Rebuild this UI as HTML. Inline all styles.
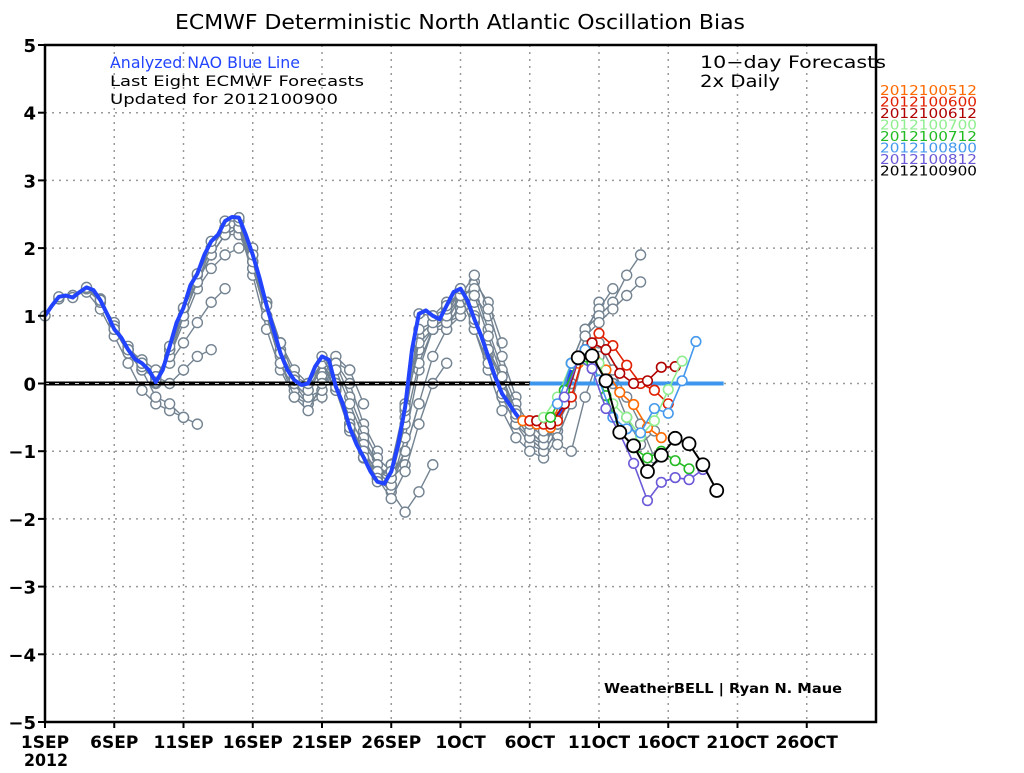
<!DOCTYPE html>
<html><head><meta charset="utf-8"><style>
body{margin:0;background:#fff;}
svg text{font-family:"DejaVu Sans","Liberation Sans",sans-serif;}
</style></head><body>
<svg id="chart" width="1024" height="768" xmlns="http://www.w3.org/2000/svg">
<rect x="0" y="0" width="1024" height="768" fill="#fff"/>
<text x="175" y="29" font-size="20" textLength="570" lengthAdjust="spacingAndGlyphs" fill="#000">ECMWF Deterministic North Atlantic Oscillation Bias</text>
<g id="grid"></g>
<g id="marks"></g>
<rect x="45" y="45" width="831" height="677" fill="none" stroke="#000" stroke-width="2.5"/>
<g id="axes"></g>
<text x="24" y="766" font-size="17" font-weight="bold" textLength="44" lengthAdjust="spacingAndGlyphs">2012</text>
<text x="110" y="68" font-size="16" textLength="190" lengthAdjust="spacingAndGlyphs" fill="#2244ff">Analyzed NAO Blue Line</text>
<text x="110" y="86" font-size="14" textLength="254" lengthAdjust="spacingAndGlyphs" fill="#000">Last Eight ECMWF Forecasts</text>
<text x="110" y="104" font-size="14" textLength="228" lengthAdjust="spacingAndGlyphs" fill="#000">Updated for 2012100900</text>
<text x="700" y="68" font-size="17" textLength="186" lengthAdjust="spacingAndGlyphs" fill="#000">10−day Forecasts</text>
<text x="700" y="87" font-size="17" textLength="80" lengthAdjust="spacingAndGlyphs" fill="#000">2x Daily</text>
<text x="604" y="693" font-size="13" font-weight="bold" textLength="238" lengthAdjust="spacingAndGlyphs" fill="#000">WeatherBELL | Ryan N. Maue</text>
<g id="legend"></g>
</svg>
<script>
const xTickLabels=["1SEP","6SEP","11SEP","16SEP","21SEP","26SEP","1OCT","6OCT","11OCT","16OCT","21OCT","26OCT"];
const yTickValues=[-5,-4,-3,-2,-1,0,1,2,3,4,5];
const analyzed=[1.0,1.15,1.28,1.3,1.27,1.35,1.42,1.38,1.23,1.02,0.8,0.68,0.5,0.36,0.3,0.2,0.02,0.2,0.55,0.9,1.12,1.45,1.62,1.9,2.1,2.2,2.4,2.46,2.45,2.2,1.9,1.55,1.15,0.8,0.45,0.2,0.05,-0.02,0.0,0.25,0.4,0.35,-0.05,-0.3,-0.65,-0.9,-1.09,-1.3,-1.45,-1.48,-1.3,-0.9,-0.35,0.5,1.03,1.08,1.0,0.95,1.15,1.35,1.4,1.23,0.95,0.7,0.4,0.1,-0.15,-0.3,-0.45,-0.58,-0.55,-0.52,-0.55,-0.55,-0.5,-0.3,0.2];
const grayStarts=[0,1,2,3,4,5,6,7,8,9,10,11,12,13,14,15,16,17,18,19,20,21,22,23,24,25,26,27,28,29,30,31,33,34,35,36];
const grayValues=[
[1.0,1.25,1.3,1.35,1.1,0.7,0.3,-0.1,-0.3,-0.4,-0.5],
[1.28,1.3,1.4,1.2,0.9,0.5,0.2,-0.2,-0.3,-0.5,-0.6],
[1.27,1.4,1.25,0.85,0.55,0.3,0.1,0.0,0.2,0.4,0.5],
[1.42,1.2,0.8,0.5,0.35,0.2,0.3,0.6,0.9,1.2,1.4],
[1.23,0.8,0.45,0.2,0.1,0.4,0.9,1.4,1.7,1.9,2.0],
[0.8,0.5,0.25,0.05,0.5,1.0,1.5,1.9,2.2,2.2,1.8],
[0.5,0.3,0.0,0.5,1.1,1.6,2.0,2.3,2.3,2.0,1.2],
[0.3,0.1,0.4,1.0,1.5,1.9,2.2,2.3,1.9,1.2,0.6],
[0.02,0.5,1.0,1.5,2.0,2.3,2.3,1.7,1.0,0.4,0.0],
[0.55,1.0,1.5,1.9,2.2,2.3,1.6,0.8,0.2,-0.2,-0.3],
[1.12,1.5,1.9,2.2,2.3,1.8,1.0,0.3,-0.1,-0.3,-0.2],
[1.62,2.0,2.3,2.3,1.7,1.0,0.4,0.0,-0.2,-0.1,0.2],
[2.1,2.3,2.3,1.8,1.2,0.5,0.0,-0.3,-0.1,0.3,0.2],
[2.4,2.4,1.7,1.2,0.6,0.1,-0.1,0.1,0.4,0.2,-0.3],
[2.45,1.8,1.0,0.3,-0.2,-0.4,0.0,0.3,0.0,-0.6,-1.0],
[1.9,1.2,0.5,0.0,-0.2,0.3,0.3,-0.2,-0.7,-1.1,-1.3],
[1.15,0.6,0.2,0.0,0.3,0.2,-0.3,-0.8,-1.2,-1.4,-1.2],
[0.45,0.1,0.0,0.3,0.0,-0.6,-1.0,-1.3,-1.5,-1.0,-0.3],
[0.05,-0.1,0.3,-0.1,-0.7,-1.1,-1.4,-1.6,-1.9,-1.6,-1.2],
[0.0,0.3,-0.1,-0.6,-1.0,-1.4,-1.7,-1.3,-0.6,0.0,0.3],
[0.4,0.0,-0.5,-0.9,-1.2,-1.4,-1.0,-0.3,0.4,0.8,1.0],
[-0.05,-0.6,-1.0,-1.4,-1.5,-0.8,0.2,0.8,0.9,1.0,1.2],
[-0.65,-1.0,-1.3,-1.4,-0.6,0.3,0.8,0.9,1.1,1.3,1.0],
[-1.09,-1.4,-1.2,-0.3,0.5,0.8,0.8,1.2,1.5,1.2,0.6],
[-1.45,-1.2,-0.5,0.7,0.9,0.9,1.3,1.6,1.1,0.4,-0.2],
[-1.3,-0.4,0.6,0.8,1.0,1.3,1.4,0.8,0.2,-0.3,-0.6],
[-0.35,0.8,0.9,1.0,1.4,1.3,0.7,0.1,-0.5,-0.8,-0.9],
[1.03,1.0,1.1,1.4,1.0,0.4,-0.2,-0.6,-0.9,-1.0,-0.7],
[1.0,1.2,1.3,0.8,0.2,-0.4,-0.8,-1.0,-1.1,-0.8,-0.3],
[1.15,1.3,0.8,0.3,-0.2,-0.6,-0.8,-0.9,-0.6,-0.2,0.5],
[1.4,0.9,0.5,0.0,-0.5,-0.8,-1.0,-0.7,0.0,0.7,1.2],
[0.95,0.5,0.1,-0.4,-0.7,-0.9,-0.6,0.3,0.8,1.1,1.4],
[-0.15,-0.4,-0.7,-0.9,-0.5,0.3,0.8,1.0,1.2,1.6,1.9],
[-0.45,-0.6,-0.8,-0.6,0.0,0.7,0.9,1.1,1.3,1.5],
[-0.55,-0.7,-0.8,-0.3,0.5,0.6,0.2,-0.2,-0.6,-1.1],
[-0.55,-0.9,-1.0,-0.2,0.4,0.0,-0.5,-0.9,-0.7]
];
const fcNames=["2012100512","2012100600","2012100612","2012100700","2012100712","2012100800","2012100812","2012100900"];
const fcColors=["#ff6a00","#e02000","#b00000","#90ee90","#22bb22","#4499ee","#6a5ad8","#000000"];
const fcStarts=[69,70,71,72,73,74,75,77];
const fcValues=[
[-0.55,-0.6,-0.65,-0.1,0.3,0.6,0.2,-0.13,-0.31,-0.65,-0.8],
[-0.55,-0.6,-0.55,-0.2,0.5,0.74,0.56,0.27,0.0,-0.1,-0.3],
[-0.55,-0.6,-0.3,0.35,0.6,0.5,0.15,0.0,0.04,0.24,0.25],
[-0.5,-0.2,0.3,0.35,0.3,-0.3,-0.5,-0.78,-0.55,-0.09,0.33],
[-0.5,-0.1,0.35,0.3,-0.18,-0.7,-0.95,-1.1,-1.0,-1.14,-1.26],
[-0.3,0.3,0.5,0.05,-0.5,-0.67,-0.73,-0.37,-0.44,0.04,0.62],
[-0.2,0.35,0.22,-0.37,-0.74,-1.18,-1.73,-1.46,-1.39,-1.42,-1.27],
[0.38,0.41,0.04,-0.72,-0.92,-1.3,-1.06,-0.81,-0.89,-1.2,-1.58]
];
const NS="http://www.w3.org/2000/svg";
const X0=45,X1=876,Y0=722,Y1=45,DAYS=60;
function xDay(d){return X0+(X1-X0)*d/DAYS;}
function xHalf(i){return xDay(i/2);}
function yVal(v){return Y0-(v+5)*(Y0-Y1)/10;}
function mk(tag,attrs,parent){const e=document.createElementNS(NS,tag);for(const k in attrs)e.setAttribute(k,attrs[k]);parent.appendChild(e);return e;}
const grid=document.getElementById('grid'),marks=document.getElementById('marks'),axes=document.getElementById('axes'),legend=document.getElementById('legend');
yTickValues.forEach(v=>{
  if(v>-5&&v<5){const l=mk('line',{x1:X0,x2:X1,y1:yVal(v),y2:yVal(v),stroke:'#999','stroke-width':1.5,'stroke-dasharray':'2,5'},grid);
  
  }
  const t=mk('line',{x1:X0-7,x2:X0,y1:yVal(v),y2:yVal(v),stroke:'#000','stroke-width':2},axes);
  
  
  const tx=mk('text',{x:X0-9,y:yVal(v)+7,'text-anchor':'end','font-size':18,'font-weight':'bold'},axes);
  tx.textContent=(v<0?'−':'')+Math.abs(v);
  
  
});
xTickLabels.forEach((lab,k)=>{
  const x=xDay(k*5);
  if(k>0){const l=mk('line',{x1:x,x2:x,y1:Y1,y2:Y0,stroke:'#999','stroke-width':1.5,'stroke-dasharray':'2,5'},grid);
  
  }
  const t=mk('line',{x1:x,x2:x,y1:Y0,y2:Y0+6,stroke:'#000','stroke-width':2},axes);
  
  
  const tx=mk('text',{x:x,y:748,'text-anchor':'middle','font-size':17,'font-weight':'bold'},axes);
  tx.textContent=lab;
  
  
});
grayStarts.forEach((s,k)=>{
  const vals=grayValues[k];
  const g=mk('g',{},marks);
  
  
  const pts=vals.map((v,j)=>xDay(s+j).toFixed(1)+','+yVal(v).toFixed(1)).join(' ');
  mk('polyline',{points:pts,fill:'none',stroke:'#738391','stroke-width':1.4},g);
  vals.forEach((v,j)=>{mk('circle',{cx:xDay(s+j),cy:yVal(v),r:5,fill:'#fff',stroke:'#738391','stroke-width':1.4},g);});
});
const z1=mk('line',{x1:X0,x2:xDay(35),y1:yVal(0),y2:yVal(0),stroke:'#000','stroke-width':4},marks);


const z1d=mk('line',{x1:X0,x2:xDay(35),y1:yVal(0),y2:yVal(0),stroke:'#ccc','stroke-width':1,'stroke-dasharray':'4,6'},marks);


const z2=mk('line',{x1:xDay(35),x2:xDay(49),y1:yVal(0),y2:yVal(0),stroke:'#3d96ee','stroke-width':4},marks);


const ap=analyzed.map((v,i)=>xHalf(i).toFixed(1)+','+yVal(v).toFixed(1)).join(' ');
const al=mk('polyline',{points:ap,fill:'none',stroke:'#2244ff','stroke-width':4,'stroke-linejoin':'round'},marks);


fcNames.forEach((n,k)=>{
  const g=mk('g',{},marks);
  
  
  const vals=fcValues[k],s=fcStarts[k],c=fcColors[k],big=(k===7);
  const pts=vals.map((v,j)=>xHalf(s+2*j).toFixed(1)+','+yVal(v).toFixed(1)).join(' ');
  mk('polyline',{points:pts,fill:'none',stroke:c,'stroke-width':big?2:1.6},g);
  vals.forEach((v,j)=>{mk('circle',{cx:xHalf(s+2*j),cy:yVal(v),r:big?6.5:4.8,fill:'#fff',stroke:c,'stroke-width':big?1.8:1.6},g);});
  const t=mk('text',{x:880,y:95+k*11.5,'font-size':13,fill:c,textLength:97,lengthAdjust:'spacingAndGlyphs'},legend);
  t.textContent=n;
  
  
});
</script>
</body></html>
